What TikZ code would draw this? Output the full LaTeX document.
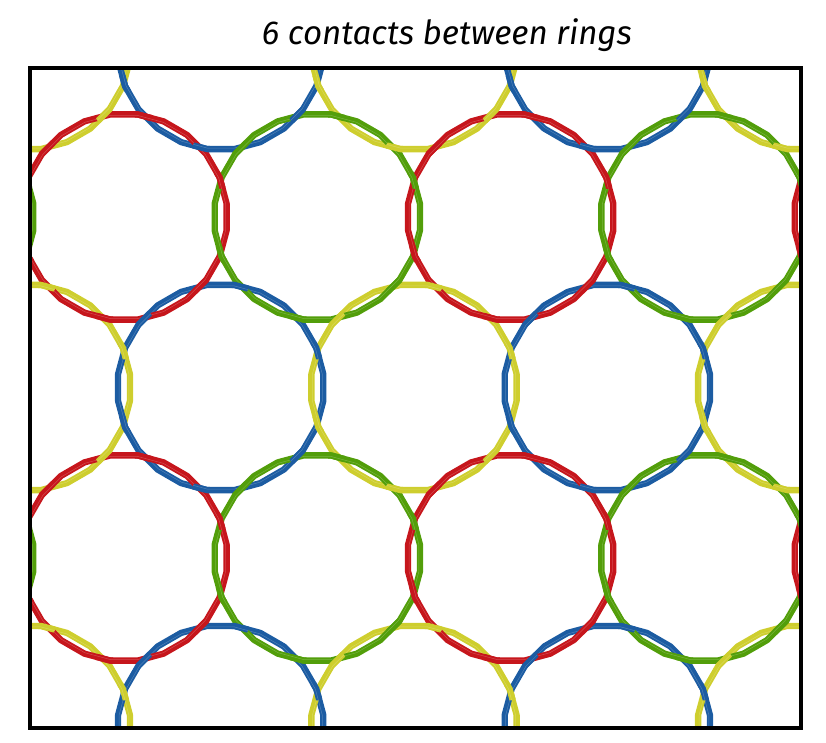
\documentclass[tikz,border=0pt]{standalone}
\usepackage{fontspec}
\setmainfont{Fira Sans}
\usepackage{graphicx}
\definecolor{ringred}{RGB}{198,22,28}
\definecolor{ringgreen}{RGB}{82,158,10}
\definecolor{ringblue}{RGB}{28,92,162}
\definecolor{ringyellow}{RGB}{206,206,46}
\tikzset{
  ringline/.style={line width=6.3pt, line join=round},
  ringshine/.style={line width=0.5pt, white, opacity=0.22, line join=round},
  frameline/.style={line width=4pt, black},
}
\newcommand{\ringpath}[2]{plot[samples=25,domain=7.5:367.5] ({#1+103.5*cos(\x)},{#2+103.5*sin(\x)}) -- cycle}
\newcommand{\myring}[3]{%
  \draw[ringline,#3] \ringpath{#1}{#2};
  \draw[ringshine] plot[samples=25,domain=7.5:367.5] ({#1+102.5*cos(\x)},{#2+102.5*sin(\x)}) -- cycle;
}
\newcommand{\myover}[3]{%
  \begin{scope}
    \clip \foreach \a in {-20.96,41.69,100.79,159.04,221.69,280.79}{ ({#1+103.5*cos(\a)},{#2+103.5*sin(\a)}) circle (9) };
    \myring{#1}{#2}{#3}
  \end{scope}
}
\begin{document}
\begin{tikzpicture}[x=1pt,y=-1pt]
\useasboundingbox (0,0) rectangle (826,742);
\node[inner sep=0pt] (title) at (447,35) {\resizebox{370pt}{!}{\itshape 6 contacts between rings}};
\begin{scope}
\clip (29.5,68) rectangle (801,728);
% rows with yellow / blue
\foreach \yy in {46.5,387.5,728.5}{
  \myring{27.3}{\yy}{ringyellow}
  \myring{220.7}{\yy}{ringblue}
  \myring{414}{\yy}{ringyellow}
  \myring{607.3}{\yy}{ringblue}
  \myring{800.7}{\yy}{ringyellow}
}
% rows with green / red
\foreach \yy in {217,558}{
  \myring{-69.3}{\yy}{ringgreen}
  \myring{124}{\yy}{ringred}
  \myring{317.3}{\yy}{ringgreen}
  \myring{510.7}{\yy}{ringred}
  \myring{704}{\yy}{ringgreen}
  \myring{897.3}{\yy}{ringred}
}
% over-crossings (twist: each ring lies on top at one of its two crossings with every neighbour)
\foreach \yy in {46.5,387.5,728.5}{
  \myover{27.3}{\yy}{ringyellow}
  \myover{220.7}{\yy}{ringblue}
  \myover{414}{\yy}{ringyellow}
  \myover{607.3}{\yy}{ringblue}
  \myover{800.7}{\yy}{ringyellow}
}
\foreach \yy in {217,558}{
  \myover{-69.3}{\yy}{ringgreen}
  \myover{124}{\yy}{ringred}
  \myover{317.3}{\yy}{ringgreen}
  \myover{510.7}{\yy}{ringred}
  \myover{704}{\yy}{ringgreen}
  \myover{897.3}{\yy}{ringred}
}
\end{scope}
\draw[frameline] (29.5,68) rectangle (801,728);
\end{tikzpicture}
\end{document}
